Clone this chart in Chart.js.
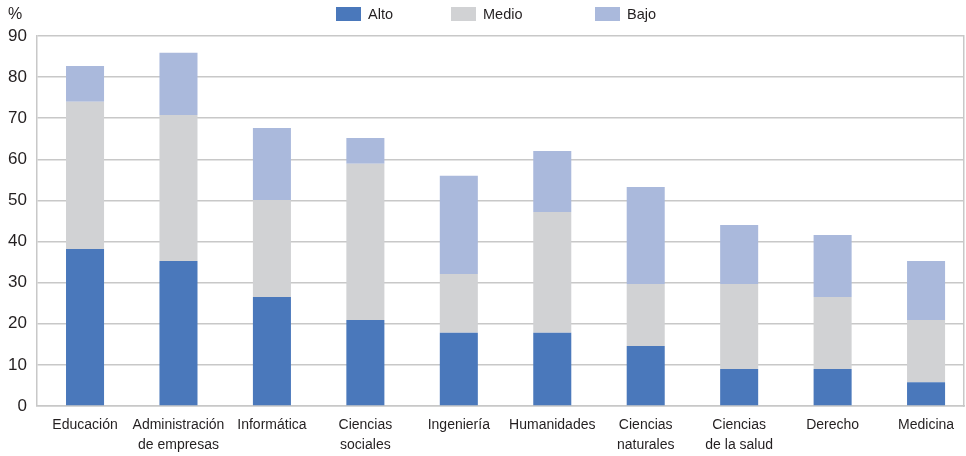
<!DOCTYPE html>
<html>
<head>
<meta charset="utf-8">
<script src="https://cdn.jsdelivr.net/npm/chart.js@4/dist/chart.umd.min.js"></script>
<style>
  html, body { margin: 0; padding: 0; background: #fff; }
  #wrap { position: relative; width: 966px; height: 456px; font-family: "Liberation Sans", Arial, sans-serif; color: #231f20; }
  canvas { position: absolute; left: 0; top: 0; }
  .pct { position: absolute; left: 8px; top: 5px; font-size: 16px; }
  .leg { position: absolute; top: 5px; font-size: 14.5px; line-height: 18px; display: flex; align-items: center; }
  .leg span.box { display: inline-block; width: 25px; height: 14px; margin-right: 7px; }
</style>
</head>
<body>
<div id="wrap">
  <canvas id="c" width="966" height="456"></canvas>
  <div class="pct">%</div>
  <div id="legend"></div>
</div>
<script>
const categories = [
  "Educación",
  ["Administración", "de empresas"],
  "Informática",
  ["Ciencias", "sociales"],
  "Ingeniería",
  "Humanidades",
  ["Ciencias", "naturales"],
  ["Ciencias", "de la salud"],
  "Derecho",
  "Medicina"
];
const seriesNames = ["Alto", "Medio", "Bajo"];
const alto  = [38.2, 35.3, 26.5, 20.9, 17.8, 17.8, 14.6, 9.0, 9.0, 5.8];
const medio = [35.8, 35.5, 23.6, 38.0, 14.3, 29.4, 15.1, 20.7, 17.5, 15.1];
const bajo  = [8.7, 15.1, 17.5, 6.3, 23.9, 14.8, 23.6, 14.3, 15.1, 14.4];
const yTicks = [0, 10, 20, 30, 40, 50, 60, 70, 80, 90];

const colors = ["#4a78bb", "#d1d2d4", "#aab9dc"];
const legendX = [336, 451, 595];
const gridColor = "#c8c8c8";
const textColor = "#231f20";
const font = "'Liberation Sans', Arial, sans-serif";

const seriesData = [alto, medio, bajo];
const datasets = seriesNames.map((n, i) => ({
  label: n,
  data: seriesData[i].map((v, k) => ({ x: k, y: v })),
  backgroundColor: colors[i],
  borderWidth: 0,
  categoryPercentage: 1,
  barPercentage: 0.407
}));

// HTML legend
const lg = document.getElementById('legend');
seriesNames.forEach((n, i) => {
  const d = document.createElement('div');
  d.className = 'leg';
  d.style.left = legendX[i] + 'px';
  d.innerHTML = '<span class="box" style="background:' + colors[i] + '"></span>' + n;
  lg.appendChild(d);
});

new Chart(document.getElementById('c'), {
  type: 'bar',
  data: { datasets },
  options: {
    responsive: false,
    animation: false,
    devicePixelRatio: 1,
    layout: { padding: { top: 36, right: 2, left: 0, bottom: 0 } },
    plugins: { legend: { display: false }, tooltip: { enabled: false } },
    scales: {
      x: {
        type: 'linear',
        stacked: true,
        offset: false,
        bounds: 'data',
        min: -0.514, max: 9.406,
        afterBuildTicks: s => { s.ticks = categories.map((c, k) => ({ value: k })); },
        grid: { display: false, drawTicks: false, offset: false },
        border: { display: true, color: gridColor, width: 1.5 },
        ticks: {
          color: textColor, font: { family: font, size: 14, lineHeight: 1.45 }, padding: 9,
          maxRotation: 0, autoSkip: false,
          callback: v => categories[v]
        },
        afterFit: s => { s.height = 50; }
      },
      y: {
        stacked: true,
        min: 0, max: 90,
        afterBuildTicks: s => { s.ticks = yTicks.map(v => ({ value: v })); },
        grid: { color: gridColor, lineWidth: 1.5, drawTicks: false },
        border: { display: true, color: gridColor, width: 1.5 },
        ticks: { color: textColor, font: { family: font, size: 17 }, padding: 10 },
        afterFit: s => { s.width = 37; }
      },
      y2: {
        position: 'right',
        min: 0, max: 90,
        grid: { display: false, drawTicks: false },
        border: { display: true, color: gridColor, width: 1.5 },
        ticks: { display: false },
        afterFit: s => { s.width = 0; }
      }
    }
  }
});
</script>
</body>
</html>
